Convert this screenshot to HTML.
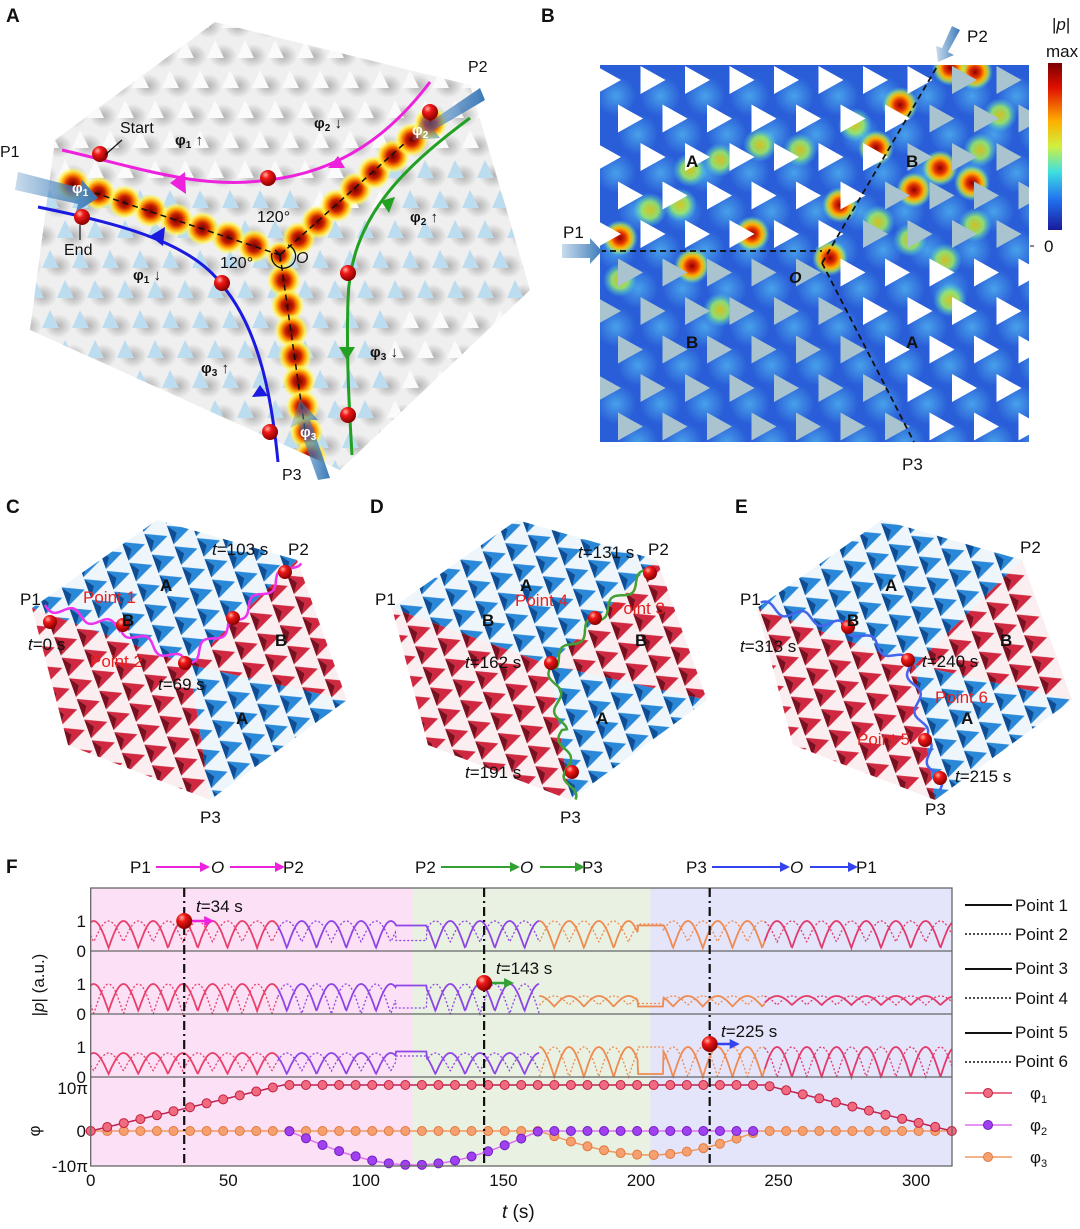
<!DOCTYPE html>
<html><head><meta charset="utf-8"><style>
html,body{margin:0;padding:0;background:#fff;}
svg{display:block;font-family:"Liberation Sans",Arial,sans-serif;}
</style></head><body>
<svg id="s" width="1080" height="1229" viewBox="0 0 1080 1229" xmlns="http://www.w3.org/2000/svg">
<defs>
<radialGradient id="ball" cx="0.35" cy="0.3" r="0.7"><stop offset="0" stop-color="#ffb0a0"/><stop offset="0.35" stop-color="#f01818"/><stop offset="1" stop-color="#8a0000"/></radialGradient>
<radialGradient id="heat" cx="0.5" cy="0.5" r="0.5"><stop offset="0" stop-color="#6a0000"/><stop offset="0.35" stop-color="#c81e00"/><stop offset="0.6" stop-color="#ff9a00"/><stop offset="0.8" stop-color="#ffee40" stop-opacity="0.8"/><stop offset="1" stop-color="#ffff80" stop-opacity="0"/></radialGradient>
<radialGradient id="heatB" cx="0.5" cy="0.5" r="0.5"><stop offset="0" stop-color="#900000"/><stop offset="0.3" stop-color="#e03000"/><stop offset="0.55" stop-color="#ffb000"/><stop offset="0.75" stop-color="#c8f040" stop-opacity="0.7"/><stop offset="1" stop-color="#40e0f0" stop-opacity="0"/></radialGradient>
<radialGradient id="warmB" cx="0.5" cy="0.5" r="0.5"><stop offset="0" stop-color="#f0d000"/><stop offset="0.5" stop-color="#a0f060"/><stop offset="1" stop-color="#40d8f0" stop-opacity="0"/></radialGradient>
<radialGradient id="cyan" cx="0.5" cy="0.5" r="0.5"><stop offset="0" stop-color="#60d8f8"/><stop offset="1" stop-color="#60d8f8" stop-opacity="0"/></radialGradient>
<radialGradient id="shadow" cx="0.5" cy="0.5" r="0.5"><stop offset="0" stop-color="#888"/><stop offset="1" stop-color="#888" stop-opacity="0"/></radialGradient>
<linearGradient id="cbar" x1="0" y1="0" x2="0" y2="1"><stop offset="0" stop-color="#7a0000"/><stop offset="0.15" stop-color="#e01000"/><stop offset="0.35" stop-color="#ffb000"/><stop offset="0.5" stop-color="#d0f040"/><stop offset="0.65" stop-color="#40e0e0"/><stop offset="0.82" stop-color="#2070f0"/><stop offset="1" stop-color="#1a1a9a"/></linearGradient>
<linearGradient id="arr" x1="0" y1="0" x2="1" y2="0"><stop offset="0" stop-color="#4a88c0" stop-opacity="0.3"/><stop offset="1" stop-color="#3a78b8"/></linearGradient>
<pattern id="pr" width="24" height="22" patternUnits="userSpaceOnUse" patternTransform="rotate(-20)"><rect width="24" height="22" fill="#fbeef0"/><path d="M1,1 L22,11 L1,21 L8,11 Z" fill="#d02840"/><path d="M1,1 L8,11 L1,21Z" fill="#7a1020"/></pattern>
<pattern id="pb" width="24" height="22" patternUnits="userSpaceOnUse" patternTransform="rotate(-20)"><rect width="24" height="22" fill="#eef6fc"/><path d="M1,1 L22,11 L1,21 L8,11 Z" fill="#2a88d8"/><path d="M1,1 L8,11 L1,21Z" fill="#0e4e96"/></pattern>
<clipPath id="hexA"><polygon points="55,140 215,22 470,85 530,290 340,470 30,330"/></clipPath>
<clipPath id="rectB"><rect x="600" y="65" width="429" height="377"/></clipPath>
</defs>

<g font-weight="bold" font-size="19" fill="#111">
<text x="6" y="22">A</text><text x="541" y="22">B</text>
<text x="6" y="513">C</text><text x="370" y="513">D</text><text x="735" y="513">E</text>
<text x="6" y="873">F</text></g>

<!-- Panel A -->
<polygon points="55,140 215,22 470,85 530,290 340,470 30,330" fill="#efefef"/>
<g id="bumpsA" clip-path="url(#hexA)"></g>
<g id="heatA" clip-path="url(#hexA)"></g>
<g fill="none" stroke="#111" stroke-width="1.5" stroke-dasharray="6,4">
<line x1="280" y1="255" x2="95" y2="193"/><line x1="280" y1="255" x2="405" y2="143"/><line x1="280" y1="255" x2="305" y2="430"/></g>
<path d="M62,150 C140,168 200,190 268,180 C340,172 390,135 430,82" fill="none" stroke="#ee22dd" stroke-width="3"/>
<path d="M470,118 C400,170 350,220 348,300 C346,360 350,420 352,455" fill="none" stroke="#22a022" stroke-width="3"/>
<path d="M38,207 C110,222 190,240 222,285 C260,330 272,400 278,462" fill="none" stroke="#1a1ae0" stroke-width="3"/>
<g><polygon points="170,183 185,172 186,194" fill="#ee22dd"/><polygon points="338,156 328,168 345,168" fill="#ee22dd"/>
<polygon points="150,236 165,227 163,246" fill="#1a1ae0"/><polygon points="260,385 252,397 268,396" fill="#1a1ae0"/>
<polygon points="381,201 389,213 395,197" fill="#22a022"/><polygon points="339,347 347,360 355,347" fill="#22a022"/></g>
<g fill="url(#arr)"><polygon points="18,172 80,188 82,180 98,198 76,212 78,204 15,190"/>
<polygon points="480,88 430,122 424,114 412,140 440,138 434,130 485,100"/>
<polygon points="330,478 310,420 318,420 300,400 290,428 298,424 318,480"/></g>
<path d="M272,253 A12,12 0 1 0 288,245" fill="none" stroke="#111" stroke-width="1.3"/>
<path d="M280,255 l-5,-5 M280,255 l5,-5 M280,255 l0,7" stroke="#111" stroke-width="1.3"/>
<g id="ballsA"></g>
<g font-size="16" fill="#111"><text x="120" y="133">Start</text><text x="64" y="255">End</text>
<text x="0" y="157">P1</text><text x="468" y="72">P2</text><text x="282" y="480">P3</text>
<text x="257" y="222">120°</text><text x="220" y="268">120°</text><text x="296" y="263" font-style="italic">O</text></g>
<line x1="105" y1="155" x2="122" y2="140" stroke="#111" stroke-width="1.2"/><line x1="80" y1="225" x2="80" y2="240" stroke="#111" stroke-width="1.2"/>
<g font-size="15" font-weight="bold" fill="#111"><text x="175" y="145">φ<tspan font-size="10" dy="3">1</tspan><tspan dy="-3"> ↑</tspan></text>
<text x="314" y="128">φ<tspan font-size="10" dy="3">2</tspan><tspan dy="-3"> ↓</tspan></text>
<text x="410" y="222">φ<tspan font-size="10" dy="3">2</tspan><tspan dy="-3"> ↑</tspan></text>
<text x="133" y="280">φ<tspan font-size="10" dy="3">1</tspan><tspan dy="-3"> ↓</tspan></text>
<text x="201" y="373">φ<tspan font-size="10" dy="3">3</tspan><tspan dy="-3"> ↑</tspan></text>
<text x="370" y="357">φ<tspan font-size="10" dy="3">3</tspan><tspan dy="-3"> ↓</tspan></text>
<text x="72" y="193" fill="#fff">φ<tspan font-size="10" dy="3">1</tspan></text>
<text x="412" y="135" fill="#fff">φ<tspan font-size="10" dy="3">2</tspan></text>
<text x="300" y="437" fill="#fff">φ<tspan font-size="10" dy="3">3</tspan></text></g>

<!-- Panel B -->
<rect x="600" y="65" width="429" height="377" fill="#2a5ed8"/>
<g id="bgB" clip-path="url(#rectB)"></g>
<g fill="none" stroke="#111" stroke-width="1.8" stroke-dasharray="6,4">
<line x1="600" y1="251" x2="822" y2="251"/><line x1="822" y1="263" x2="938" y2="65"/><line x1="822" y1="263" x2="914" y2="442"/></g>
<g font-size="17" font-weight="bold" fill="#111"><text x="686" y="167">A</text><text x="906" y="167">B</text><text x="686" y="348">B</text><text x="906" y="348">A</text></g>
<text x="789" y="283" font-size="16" font-style="italic" font-weight="bold" fill="#111">O</text>
<g fill="url(#arr)"><polygon points="562,244 590,244 590,238 602,251 590,264 590,258 562,258"/>
<polygon points="960,30 948,52 954,55 938,62 936,46 942,48 952,26"/></g>
<rect x="1048" y="63" width="14" height="167" fill="url(#cbar)"/>
<g font-size="17" fill="#111"><text x="563" y="238">P1</text><text x="967" y="42">P2</text><text x="902" y="470">P3</text>
<text x="1052" y="30">|<tspan font-style="italic">p</tspan>|</text><text x="1046" y="57">max</text><text x="1044" y="252">0</text></g>
<line x1="1030" y1="246" x2="1034" y2="246" stroke="#111"/>

<g id="cubes"></g>

<!-- Panel F -->
<rect x="90.7" y="888" width="321.9" height="278" fill="#fbe0f6"/>
<rect x="412.6" y="888" width="238" height="278" fill="#e8f1e2"/>
<rect x="650.5" y="888" width="301.5" height="278" fill="#e4e4fa"/>
<g id="chart"></g>
<g fill="none" stroke="#666" stroke-width="1.3"><rect x="90.7" y="888" width="861.3" height="278"/>
<line x1="90.7" y1="951" x2="952" y2="951"/><line x1="90.7" y1="1014" x2="952" y2="1014"/><line x1="90.7" y1="1077" x2="952" y2="1077"/></g>
<g stroke="#111" stroke-width="2.2" stroke-dasharray="9,4,2,4"><line x1="184.2" y1="888" x2="184.2" y2="1166"/><line x1="484.1" y1="888" x2="484.1" y2="1166"/><line x1="709.7" y1="888" x2="709.7" y2="1166"/></g>
<g id="balls2"></g>
<g font-size="17" fill="#111">
<text x="196" y="912"><tspan font-style="italic">t</tspan>=34 s</text>
<text x="496" y="974"><tspan font-style="italic">t</tspan>=143 s</text>
<text x="721" y="1037"><tspan font-style="italic">t</tspan>=225 s</text>
<g text-anchor="end"><text x="86" y="927">1</text><text x="86" y="957">0</text><text x="86" y="990">1</text><text x="86" y="1020">0</text><text x="86" y="1053">1</text><text x="86" y="1083">0</text>
<text x="88" y="1094">10π</text><text x="86" y="1137">0</text><text x="88" y="1172">-10π</text></g>
<text transform="translate(44,985) rotate(-90)" text-anchor="middle">|<tspan font-style="italic">p</tspan>| (a.u.)</text>
<text transform="translate(40,1131) rotate(-90)" text-anchor="middle">φ</text>
<g text-anchor="middle"><text x="90.7" y="1186">0</text><text x="228.3" y="1186">50</text><text x="365.8" y="1186">100</text><text x="503.4" y="1186">150</text><text x="640.9" y="1186">200</text><text x="778.5" y="1186">250</text><text x="916" y="1186">300</text></g>
<text x="502" y="1218" font-size="19"><tspan font-style="italic">t</tspan> (s)</text>
<text x="130" y="873">P1</text><text x="211" y="873" font-style="italic">O</text><text x="283" y="873">P2</text>
<text x="415" y="873">P2</text><text x="520" y="873" font-style="italic">O</text><text x="582" y="873">P3</text>
<text x="686" y="873">P3</text><text x="790" y="873" font-style="italic">O</text><text x="856" y="873">P1</text>
<text x="1015" y="911">Point 1</text><text x="1015" y="940">Point 2</text><text x="1015" y="974">Point 3</text><text x="1015" y="1004">Point 4</text><text x="1015" y="1038">Point 5</text><text x="1015" y="1067">Point 6</text>
<text x="1030" y="1099">φ<tspan font-size="11" dy="4">1</tspan></text><text x="1030" y="1131">φ<tspan font-size="11" dy="4">2</tspan></text><text x="1030" y="1163">φ<tspan font-size="11" dy="4">3</tspan></text>
</g>
<g stroke-width="2"><line x1="156" y1="867" x2="200" y2="867" stroke="#ee22dd"/><line x1="230" y1="867" x2="275" y2="867" stroke="#ee22dd"/>
<line x1="441" y1="867" x2="510" y2="867" stroke="#33a033"/><line x1="540" y1="867" x2="575" y2="867" stroke="#33a033"/>
<line x1="712" y1="867" x2="780" y2="867" stroke="#3344ee"/><line x1="810" y1="867" x2="848" y2="867" stroke="#3344ee"/></g>
<g><polygon points="200,862 210,867 200,872" fill="#ee22dd"/><polygon points="275,862 285,867 275,872" fill="#ee22dd"/>
<polygon points="510,862 520,867 510,872" fill="#33a033"/><polygon points="575,862 585,867 575,872" fill="#33a033"/>
<polygon points="780,862 790,867 780,872" fill="#3344ee"/><polygon points="848,862 858,867 848,872" fill="#3344ee"/></g>
<g stroke="#111" stroke-width="2"><line x1="965" y1="905" x2="1012" y2="905"/><line x1="965" y1="969" x2="1012" y2="969"/><line x1="965" y1="1033" x2="1012" y2="1033"/></g>
<g stroke="#111" stroke-width="1.5" stroke-dasharray="2,2"><line x1="965" y1="934" x2="1012" y2="934"/><line x1="965" y1="998" x2="1012" y2="998"/><line x1="965" y1="1062" x2="1012" y2="1062"/></g>
<g stroke-width="1.5"><line x1="965" y1="1093" x2="1012" y2="1093" stroke="#e8406a"/><line x1="965" y1="1125" x2="1012" y2="1125" stroke="#e070f0"/><line x1="965" y1="1157" x2="1012" y2="1157" stroke="#f09a60"/></g>
<circle cx="988" cy="1093" r="4.5" fill="#f06a80" stroke="#c02040"/><circle cx="988" cy="1125" r="4.5" fill="#a040f0" stroke="#7020c0"/><circle cx="988" cy="1157" r="4.5" fill="#f6a070" stroke="#e07a40"/>
</svg>
<script>
const NS='http://www.w3.org/2000/svg';
function el(t,a,p){const e=document.createElementNS(NS,t);for(const k in a)e.setAttribute(k,a[k]);(p||document.getElementById('s')).appendChild(e);return e;}
const $=id=>document.getElementById(id);
(function(){const g=$('bumpsA');
for(let r=0;r<16;r++)for(let c=0;c<18;c++){const x=20+c*30+(r%2)*15,y=20+r*30;
 el('ellipse',{cx:x+8,cy:y+6,rx:14,ry:12,fill:'url(#shadow)',opacity:0.6},g);
 const blue=(y>185&&!(x>380&&y>300)&&!(y<230&&x>300&&x<420))||(x>390&&y>150&&y<300);
 el('polygon',{points:`${x-8},${y+8} ${x},${y-10} ${x+9},${y+8}`,fill:blue?'#bcdcef':'#fafafa'},g);}
const h=$('heatA');const O=[280,255],ends=[[60,180],[440,115],[312,470]];
ends.forEach(e=>{for(let i=1;i<9;i++){const f=i/8.5;const x=O[0]+(e[0]-O[0])*f,y=O[1]+(e[1]-O[1])*f;el('circle',{cx:x,cy:y,r:17,fill:'url(#heat)'},h);}});
el('circle',{cx:280,cy:255,r:14,fill:'url(#heat)'},h);
const bg=$('ballsA');[[100,154],[268,178],[430,112],[82,217],[222,283],[348,273],[348,415],[270,432]].forEach(p=>el('circle',{cx:p[0],cy:p[1],r:8,fill:'url(#ball)'},bg));
})();
(function(){const g=$('bgB');
for(let r=0;r<11;r++)for(let c=0;c<11;c++){const y=80+r*38.5,x=598+(r%2?22:0)+c*44.5;el('circle',{cx:x+18,cy:y+16,r:20,fill:'url(#cyan)',opacity:0.55},g);}
const heats=[[620,238],[692,266],[752,234],[840,205],[876,148],[900,105],[975,72],[950,68],[940,168],[914,190],[972,183],[830,258]];
const warm=[[620,280],[650,210],[720,160],[760,145],[800,150],[855,125],[980,150],[975,225],[910,240],[945,260],[950,300],[720,310],[690,170],[1000,115],[680,205],[878,222]];
warm.forEach(p=>el('circle',{cx:p[0],cy:p[1],r:17,fill:'url(#warmB)',opacity:0.85},g));
heats.forEach(p=>el('circle',{cx:p[0],cy:p[1],r:18,fill:'url(#heatB)'},g));
const lx=(y)=>822+(938-822)*(263-y)/(263-65), lx3=(y)=>822+(914-822)*(y-263)/(442-263);
for(let r=0;r<11;r++)for(let c=0;c<11;c++){const y=80+r*38.5,x=606+(r%2?22:0)+c*44.5;
 let A=(y<250&&x<lx(y))||(y>268&&x>lx3(y));
 el('polygon',{points:`${x-10},${y-14} ${x+15},${y} ${x-10},${y+14}`,fill:A?'#ffffff':'#a9c3cf'},g);}
})();
(function(){const g=$('cubes');
const specs=[
 {dx:0,path:[[45,605],[120,628],[185,663],[235,620],[298,560]],col:'#ee33ee'},
 {dx:360,path:[[650,570],[598,617],[552,665],[562,730],[572,800]],col:'#44a033'},
 {dx:725,path:[[940,790],[925,740],[910,665],[848,628],[760,605]],col:'#4466ee'}];
specs.forEach((s,i)=>{const d=s.dx;const P=(x,y)=>`${x+d},${y}`;
 const P1=[32,608],T=[157,520],P2=[297,560],R=[347,700],P3=[210,800],BL=[68,745],C=[190,665];
 const poly=(pts,f)=>el('polygon',{points:pts.map(p=>P(p[0],p[1])).join(' '),fill:f},g);
 poly([P1,T,P2,C],'url(#pb)');poly([P2,R,C],'url(#pr)');poly([C,R,P3],'url(#pb)');poly([P1,C,P3,BL],'url(#pr)');
 let dstr='';const pts=s.path;let first=true;
 for(let k=0;k<pts.length-1;k++){const a=pts[k],b=pts[k+1];const L=Math.hypot(b[0]-a[0],b[1]-a[1]);const nx=-(b[1]-a[1])/L,ny=(b[0]-a[0])/L;
  for(let j=0;j<=40;j++){const f=j/40;const w=5*Math.sin(f*L/6);const x=a[0]+(b[0]-a[0])*f+nx*w,y=a[1]+(b[1]-a[1])*f+ny*w;dstr+=(first?'M':'L')+x.toFixed(1)+','+y.toFixed(1);first=false;}}
 el('path',{d:dstr,fill:'none',stroke:s.col,'stroke-width':2.5},g);
});
const balls=[[50,622],[123,625],[185,663],[233,618],[285,572],[650,573],[595,618],[551,663],[572,772],[848,627],[908,660],[925,740],[940,778]];
balls.forEach(p=>el('circle',{cx:p[0],cy:p[1],r:7,fill:'url(#ball)'},g));
const T=(x,y,txt,o)=>{const e=el('text',Object.assign({x:x,y:y,'font-size':17,fill:'#111'},o||{}),g);e.innerHTML=txt;return e;};
const it='<tspan font-style="italic">t</tspan>';
[[0,20],[360,375],[725,740]].forEach((q,i)=>{T(q[1],605,'P1');});
T(288,555,'P2');T(648,555,'P2');T(1020,553,'P2');T(200,823,'P3');T(560,823,'P3');T(925,815,'P3');
T(212,555,it+'=103 s');T(28,650,it+'=0 s');T(158,690,it+'=69 s');
T(578,558,it+'=131 s');T(465,668,it+'=162 s');T(465,778,it+'=191 s');
T(740,652,it+'=313 s');T(922,667,it+'=240 s');T(955,782,it+'=215 s');
const red={fill:'#e82020'};
T(83,603,'Point 1',red);T(90,667,'Point 2',red);T(515,606,'Point 4',red);T(612,614,'Point 3',red);T(935,703,'Point 6',red);T(857,745,'Point 5',red);
[[0],[360],[725]].forEach(q=>{const d=q[0];const b={'font-weight':'bold'};T(160+d,591,'A',b);T(236+d,724,'A',b);T(275+d,646,'B',b);T(122+d,626,'B',b);});
})();
(function(){const g=$('chart');const X=t=>90.7+2.751*t;const base=[951,1014,1077],U=30,Tp=10.8;
const segs=[[0,68,'#e8406a'],[68,163,'#8f45e6'],[163,245,'#ef8a50'],[245,313,'#e23a6a']];
const amp=[[[1,.1,1,.3],[1,.1,1,.3],[1,.1,1,.3],[1,.1,1,.3]],
 [[1,.1,1,.0],[1,.1,1,.0],[.6,.25,.6,.3],[.6,.3,.6,.3]],
 [[.8,.1,.8,.2],[.8,.1,.8,.2],[1,0,1,0],[1,0,1,0]]];
const pl=[[[.85,.35],[.85,.9]],[[.95,.2],[.25,.35]],[[.85,.7],[.1,1.0]]];
function v(p,s,t,dot){if(t>=111&&t<=122)return pl[p][0][dot];if(t>=199&&t<=208)return pl[p][1][dot];
 const a=amp[p][s];const hi=dot?a[2]:a[0],lo=dot?a[3]:a[1];const ph=dot?Tp/2:0;return lo+(hi-lo)*Math.abs(Math.sin(Math.PI*(t-6.5-ph)/Tp));}
for(let p=0;p<3;p++)for(let s=0;s<4;s++)for(let dot=0;dot<2;dot++){let d='';const [a,b,c]=segs[s];
 for(let t=a;t<=b+0.001;t+=0.25){d+=(t===a?'M':'L')+X(t).toFixed(1)+','+(base[p]-U*v(p,s,t,dot)).toFixed(1);}
 el('path',Object.assign({d:d,fill:'none',stroke:segs[s][2],'stroke-width':dot?1.3:1.8},dot?{'stroke-dasharray':'2,2'}:{}),g);}
const Y0=1131;
const f1=t=>t<70?Y0-46*(t/70):(t<245?1085:1085+46*((t-245)/68));
const f2=t=>(t>72&&t<163)?Y0+34*Math.sin(Math.PI*(t-72)/91):Y0;
const f3=t=>(t>163&&t<243)?Y0+24*Math.sin(Math.PI*(t-163)/80):Y0;
const draw=(f,t0,t1,lc,mf,ms)=>{let d='';for(let t=t0;t<=t1+0.01;t+=1){d+=(t===t0?'M':'L')+X(t).toFixed(1)+','+f(t).toFixed(1);}
 el('path',{d:d,fill:'none',stroke:lc,'stroke-width':1.5},g);
 for(let k=0;k<=52;k++){const t=k*313/52;if(t<t0-0.1||t>t1+0.1)continue;el('circle',{cx:X(t),cy:f(t),r:4.5,fill:mf,stroke:ms,'stroke-width':1},g);}};
draw(f3,0,313,'#f09a60','#f6a070','#e07a40');
draw(f2,72,243,'#e070f0','#a040f0','#7020c0');
draw(f1,0,313,'#c02050','#f06a80','#c02040');
const bb=$('balls2');
[[184.2,921,'#ee22dd'],[484.1,983,'#33a033'],[709.7,1044,'#3344ee']].forEach(q=>{
 el('line',{x1:q[0],y1:q[1],x2:q[0]+22,y2:q[1],stroke:q[2],'stroke-width':2.5},bb);
 el('polygon',{points:`${q[0]+20},${q[1]-5} ${q[0]+30},${q[1]} ${q[0]+20},${q[1]+5}`,fill:q[2]},bb);
 el('circle',{cx:q[0],cy:q[1],r:8,fill:'url(#ball)'},bb);});
})();
</script>
</body></html>
